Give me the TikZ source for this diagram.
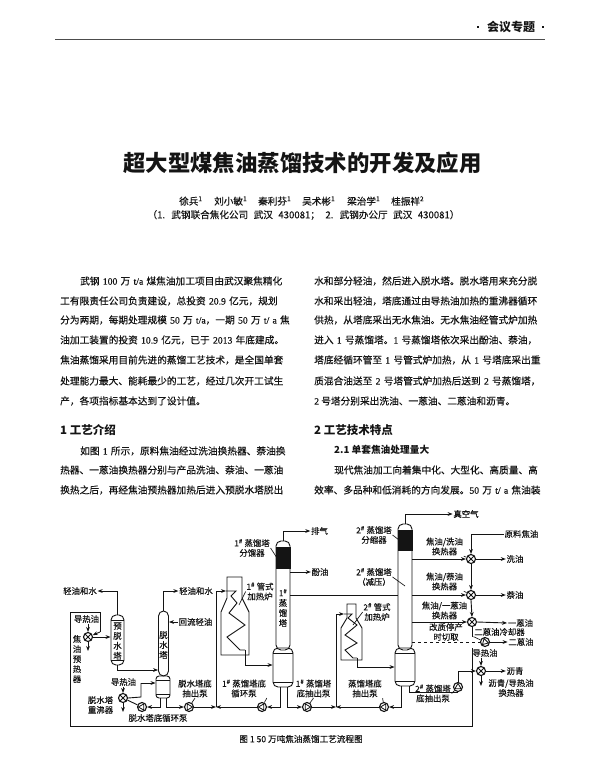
\documentclass[tikz,border=0pt]{standalone}
\usepackage{fontspec}
\usetikzlibrary{arrows.meta,calc}
\setmainfont{Noto Sans CJK SC}
\newfontfamily\lat[FakeBold=0.25]{Liberation Serif}
\newfontfamily\semi[FakeBold=0.25]{Noto Sans CJK SC}
\XeTeXlinebreaklocale "zh"
\XeTeXlinebreakskip=0pt plus 2pt minus .3pt
\definecolor{ink}{gray}{0.08}
\newcommand\blin[5]{\node[bodytext,text width=#4pt] (#1) at (#2,#3) {\parfillskip=0pt\relax #5};}
\newcommand\blast[4]{\node[bodytext] (#1) at (#2,#3) {#4};}
\newcommand\nsup[1]{\textsuperscript{#1}}
\begin{document}
\begin{tikzpicture}[x=1pt,y=-1pt,every node/.style={text=ink},
 bodytext/.style={anchor=west,inner sep=0pt,font=\fontsize{9.7}{11}\selectfont\semi},
 headtext/.style={anchor=west,inner sep=0pt,font=\fontsize{11.5}{13}\selectfont\bfseries},
 lab/.style={inner sep=0.6pt,align=center,font=\fontsize{8.4}{9.8}\selectfont\semi},
 vlab/.style={inner sep=0pt,align=center,font=\fontsize{8.4}{10}\selectfont\semi},
 author/.style={anchor=west,inner sep=0pt,font=\fontsize{9.6}{11}\selectfont\semi},
 pipe/.style={line width=.9pt,draw=ink},
 flow/.style={pipe,-{Stealth[length=5pt,width=3.8pt]}},
 leader/.style={line width=.65pt,draw=ink},
 vessel/.style={draw=ink,line width=.9pt,rounded corners=5pt,inner sep=0pt,minimum width=#1},
 packed/.style={fill=ink,draw=ink,inner sep=0pt,minimum width=#1},
 hx/.style={circle,draw=ink,line width=1.1pt,minimum size=9pt,inner sep=0pt,
   path picture={\draw[line width=.8pt,ink]
     (path picture bounding box.north west)--(path picture bounding box.south east)
     (path picture bounding box.north east)--(path picture bounding box.south west);}},
 pump/.style={circle,draw=ink,line width=1.1pt,minimum size=9pt,inner sep=0pt,
   path picture={\draw[line width=.8pt,ink]
     ($(path picture bounding box.center)+(#1:3.6pt)$)--
     ($(path picture bounding box.center)+(#1+120:3.6pt)$)--
     ($(path picture bounding box.center)+(#1-120:3.6pt)$)--cycle;}},
 decodot/.style={fill=ink,inner sep=0pt,minimum size=2.8pt}
]
\useasboundingbox (0,0) rectangle (600,770);
\fill[white] (0,0) rectangle (600,770);

% ---------- header
\node[anchor=west,inner sep=0pt,font=\fontsize{12}{14}\selectfont\bfseries] (hdr) at (487,27) {会议专题};
\node[decodot] (hd1) at (478,27) {};
\node[decodot] (hd2) at (543,27) {};
\coordinate (hrA) at (55,39);
\coordinate (hrB) at (545,39);
\draw[line width=.7pt,black!70] (hrA)--(hrB);

% ---------- title
\node[inner sep=0pt,font=\fontsize{22.4}{26}\selectfont\bfseries] (title) at (302.5,163) {超大型煤焦油蒸馏技术的开发及应用};
\node[author] (a1) at (179,201) {徐兵\nsup{1}};
\node[author] (a2) at (214,201) {刘小敏\nsup{1}};
\node[author] (a3) at (258,201) {秦利芬\nsup{1}};
\node[author] (a4) at (302,201) {吴术彬\nsup{1}};
\node[author] (a5) at (347,201) {梁治学\nsup{1}};
\node[author] (a6) at (391,201) {桂振祥\nsup{2}};
\node[inner sep=0pt,font=\fontsize{9.6}{11}\selectfont\semi] (aff) at (303.5,215) {\spaceskip=5.5pt（1. 武钢联合焦化公司 武汉 430081； 2. 武钢办公厅 武汉 430081）};

% ---------- left column
\blin{l1}{80}{281}{211}{武钢 {\lat 100} 万 {\lat t/a} 煤焦油加工项目由武汉聚焦精化}
\blin{l2}{60}{301}{231}{工有限责任公司负责建设，总投资 {\lat 20.9} 亿元，规划}
\blin{l3}{60}{320}{231}{分为两期，每期处理规模 {\lat 50} 万 {\lat t/a}，一期 {\lat 50} 万 {\lat t/ a} 焦}
\blin{l4}{60}{340}{231}{油加工装置的投资 {\lat 10.9} 亿元，已于 {\lat 2013} 年底建成。}
\blin{l5}{60}{360}{231}{焦油蒸馏采用目前先进的蒸馏工艺技术，是全国单套}
\blin{l6}{60}{381}{231}{处理能力最大、能耗最少的工艺，经过几次开工试生}
\blast{l7}{60}{401}{产，各项指标基本达到了设计值。}
\node[headtext] (h1) at (60,430) {1 工艺介绍};
\blin{l8}{80}{451}{211}{如图 {\lat 1} 所示，原料焦油经过洗油换热器、萘油换}
\blin{l9}{60}{470}{231}{热器、一蒽油换热器分别与产品洗油、萘油、一蒽油}
\blin{l10}{60}{490}{231}{换热之后，再经焦油预热器加热后进入预脱水塔脱出}

% ---------- right column
\blin{r1}{314}{281}{231}{水和部分轻油，然后进入脱水塔。脱水塔用来充分脱}
\blin{r2}{314}{301}{231}{水和采出轻油，塔底通过由导热油加热的重沸器循环}
\blin{r3}{314}{320}{231}{供热，从塔底采出无水焦油。无水焦油经管式炉加热}
\blin{r4}{314}{340}{231}{进入 {\lat 1} 号蒸馏塔。{\lat 1} 号蒸馏塔依次采出酚油、萘油，}
\blin{r5}{314}{360}{231}{塔底经循环管至 {\lat 1} 号管式炉加热，从 {\lat 1} 号塔底采出重}
\blin{r6}{314}{381}{231}{质混合油送至 {\lat 2} 号塔管式炉加热后送到 {\lat 2} 号蒸馏塔，}
\blast{r7}{314}{401}{{\lat 2} 号塔分别采出洗油、一蒽油、二蒽油和沥青。}
\node[headtext] (h2) at (314,430) {2 工艺技术特点};
\node[headtext,font=\fontsize{9.7}{11}\selectfont\bfseries] (h21) at (334,450) {2.1 单套焦油处理量大};
\blin{r8}{334}{470}{211}{现代焦油加工向着集中化、大型化、高质量、高}
\blin{r9}{314}{490}{231}{效率、多品种和低消耗的方向发展。{\lat 50} 万 {\lat t/ a} 焦油装}

% ---------- vessels
\node[vessel=13pt,minimum height=50pt] (tp) at (117.5,640) {};
\node[vessel=10pt,minimum height=65pt] (td) at (163.5,643.5) {};
\node[vessel=14pt,minimum height=22pt,rounded corners=3pt] (tdl) at (163,687) {};
\node[vessel=14pt,minimum height=109pt] (t1) at (283,595.5) {};
\node[vessel=20pt,minimum height=39pt] (t1l) at (283,667.5) {};
\node[packed=14pt,minimum height=21pt] (d1) at (283,557.5) {};
\node[vessel=14pt,minimum height=126pt] (t2) at (405,587) {};
\node[vessel=20pt,minimum height=38pt] (t2l) at (405,667) {};
\node[packed=14pt,minimum height=20pt] (d2) at (405,540) {};
\coordinate (tl1a) at (276,547); \coordinate (tl1b) at (290,547);
\coordinate (tl2a) at (398,530); \coordinate (tl2b) at (412,530);
\coordinate (w1a) at (273,653); \coordinate (w1b) at (293,653);
\coordinate (w2a) at (273,682); \coordinate (w2b) at (293,682);
\coordinate (w3a) at (395,653); \coordinate (w3b) at (415,653);
\coordinate (w4a) at (395,681); \coordinate (w4b) at (415,681);
\coordinate (w5a) at (156,680); \coordinate (w5b) at (170,680);
\coordinate (w6a) at (156,694); \coordinate (w6b) at (170,694);
\coordinate (w7a) at (111,620); \coordinate (w7b) at (124,620);
\coordinate (w8a) at (111,660); \coordinate (w8b) at (124,660);
\draw[pipe] (tl1a)--(tl1b) (tl2a)--(tl2b) (w1a)--(w1b) (w2a)--(w2b) (w3a)--(w3b) (w4a)--(w4b)
 (w5a)--(w5b) (w6a)--(w6b) (w7a)--(w7b) (w8a)--(w8b);

% furnaces
\draw[pipe] (227,598)--(227,577)--(242,577)--(242,598)--(249,612)--(249,655)--(221,655)--(221,612)--cycle;
\draw[pipe] (347,618)--(347,604)--(356,604)--(356,618)--(362,628)--(362,660)--(341,660)--(341,628)--cycle;

% exchangers and pumps
\node[hx] (hx0) at (88,637) {};
\node[hx] (hxr) at (123,698) {};
\node[hx] (hx1) at (471,559) {};
\node[hx] (hx2) at (471,595) {};
\node[hx] (hx3) at (472,622) {};
\node[hx] (hx4) at (481,671) {};
\node[pump=-135] (cool) at (485,642) {};
\node[pump=180] (pr) at (142,707) {};
\node[pump=0] (p1) at (189,707) {};
\node[pump=180] (p2) at (262,707) {};
\node[pump=0] (p3) at (307,707) {};
\node[pump=180] (p4) at (384,707) {};
\node[pump=90] (p5) at (458,687) {};

% ---------- labels
\node[lab] (qs1) at (80,591) {轻油和水};
\node[lab] (qs2) at (196,591) {轻油和水};
\node[lab] (hl) at (195.5,622) {回流轻油};
\node[lab] (dr0) at (86.5,619) {导热油};
\node[vlab] (yrq) at (77,659) {焦\\油\\预\\热\\器};
\node[vlab] (ytxt) at (117.5,641) {预\\脱\\水\\塔};
\node[vlab] (dtxt) at (163.5,645) {脱\\水\\塔};
\node[vlab] (t1txt) at (283,608) {1\nsup{\#}\\蒸\\馏\\塔};
\node[lab] (dr1) at (123.5,682) {导热油};
\node[lab] (rbl) at (100.5,705) {脱水塔\\重沸器};
\node[lab] (prl) at (158,718) {脱水塔底循环泵};
\node[lab] (p1l) at (195,688.5) {脱水塔底\\抽出泵};
\node[lab] (p2l) at (244,688.5) {1\nsup{\#} 蒸馏塔底\\循环泵};
\node[lab] (p3l) at (313.5,688.5) {1\nsup{\#} 蒸馏塔\\底抽出泵};
\node[lab] (p4l) at (365,688.5) {蒸馏塔底\\抽出泵};
\node[lab] (p5l) at (433,693.5) {2\nsup{\#} 蒸馏塔\\底抽出泵};
\node[lab] (d1l) at (252,548) {1\nsup{\#} 蒸馏塔\\分馏器};
\node[lab] (f1l) at (260,591.5) {1\nsup{\#} 管式\\加热炉};
\node[lab] (d2l) at (374,535) {2\nsup{\#} 蒸馏塔\\分缩器};
\node[lab] (t2l2) at (374,577) {2\nsup{\#} 蒸馏塔\\（减压）};
\node[lab] (f2l) at (377,612) {2\nsup{\#} 管式\\加热炉};
\node[lab] (pq) at (319.5,531) {排气};
\node[lab] (fy) at (320,572) {酚油};
\node[lab] (zkq) at (466,514) {真空气};
\node[lab] (raw) at (521.5,534) {原料焦油};
\node[lab] (xy) at (515,559) {洗油};
\node[lab] (ny) at (515,595) {萘油};
\node[lab] (y1) at (520.5,623) {一蒽油};
\node[lab] (y2) at (521,642) {二蒽油};
\node[lab] (lq) at (515,671) {沥青};
\node[lab] (hx1l) at (444.5,546.5) {焦油/洗油\\换热器};
\node[lab] (hx2l) at (444.5,581.5) {焦油/萘油\\换热器};
\node[lab] (hx3l) at (444.5,610.5) {焦油/一蒽油\\换热器};
\node[lab] (gz) at (446,632) {改质停产\\时切取};
\node[lab] (cooll) at (499.5,632) {二蒽油冷却器};
\node[lab] (dr2) at (485,653) {导热油};
\node[lab] (hx4l) at (511,688) {沥青/导热油\\换热器};
\node[inner sep=0pt,font=\fontsize{8.6}{10}\selectfont\semi] (cap) at (301,739) {图 1 50 万吨焦油蒸馏工艺流程图};

% ---------- free ends and junctions
\coordinate (hx0b) at (88,651);
\coordinate (hxrb) at (123,712);
\coordinate (hx4b) at (481,686);
\coordinate (j1) at (216,707);
\coordinate (j2) at (336,707);
\coordinate (rr) at (100,632);
\coordinate (rt) at (100,612);
\coordinate (rl) at (70,612);
\coordinate (rb) at (70,726);
\coordinate (rc) at (472,726);
\coordinate (m1) at (472,637);
\coordinate (m2) at (472,648);
\coordinate (f1in) at (226,591);
\coordinate (f1o) at (245,650);
\coordinate (f2in) at (344,614);
\coordinate (f2o) at (357,658);
\coordinate (rbk) at (141,683);
\coordinate (rbj) at (141,697);

% ---------- pipes
\draw[flow] (tp.north)|-(qs1.east);
\draw[flow] (td.north)|-(qs2.west);
\draw[flow] (hl.west)--(td.east|-hl);
\draw[flow] (hx0)--(tp.west|-hx0);
\draw[flow] (dr0.south-|hx0)--(hx0.north);
\draw[flow] (hx0)--(hx0b);
\draw[pipe] (m2)--(rc)--(rb)--(rl)--(rt)--(rr);
\draw[flow] (rr)--(hx0);
\draw[flow] (tp.south)|-(td.west|-0,670);
\draw[flow] (dr1.south-|hxr)--(hxr.north);
\draw[flow] (hxr)--(hxrb);
\draw[pipe] (hxr)--(pr);
\draw[pipe] (hxr.east)--(rbj)--(rbk);
\draw[flow] (rbk)--(tdl.west|-rbk);
\draw[flow] ([xshift=-3pt]tdl.south)|-(pr.east);
\draw[flow] ([xshift=3pt]tdl.south)|-(p1.west);
\draw[leader] (p1l.south)--(p1);
\draw[flow] (p1.east)--(j1);
\draw[flow] (p2.west)--(j1);
\draw[flow] (j1)|-(f1in);
\draw[pipe] (f1in)--(236,591)--(231,596)--(237,603)--(229,613)--(245,625)--(227,637)--(240,650)--(f1o);
\draw[flow] (f1o)|-(t1l.west|-0,665);
\draw[flow] ([xshift=-3pt]t1l.south)|-(p2.east);
\draw[flow] ([xshift=4pt]t1l.south)|-(p3.west);
\draw[flow] (p3.east)--(j2);
\draw[flow] (p4.west)--(j2);
\draw[flow] (j2)|-(f2in);
\draw[pipe] (f2in)--(352,614)--(348,618)--(357,625)--(345,635)--(357,643)--(345,650)--(353,658)--(f2o);
\draw[flow] (f2o)|-(t2l.west|-0,667);
\draw[flow] ([xshift=-4pt]t2l.south)|-(p4.east);
\draw[pipe] ([xshift=4pt]t2l.south)|-(p5.south-|p5);
\draw[flow] (p5.north)|-(hx4.west);
\draw[flow] (t1.north)|-(pq.west);
\draw[flow] (t1.east|-fy)--(fy.west);
\draw[pipe] (t1.east|-ny)--(t2.west|-ny);
\draw[flow] (t2.north)|-(zkq.west);
\draw[flow] (raw.west)-|(hx1.north);
\draw[flow] (t2.east|-hx1)--(hx1.west);
\draw[flow] (hx1.east)--(xy.west);
\draw[flow] (hx1.south)--(hx2.north);
\draw[flow] (t2.east|-hx2)--(hx2.west);
\draw[flow] (hx2.east)--(ny.west);
\draw[flow] (hx2.south)--(hx3.north);
\draw[flow] (t2.east|-hx3)--(hx3.west);
\draw[flow] (hx3.east)--(y1.west);
\draw[pipe] (hx3.south)--(m1);
\draw[pipe,dashed] (t2.east|-cool)--(cool.west);
\draw[flow] (cool.east)--(y2.west);
\draw[flow] (dr2.south-|hx4)--(hx4.north);
\draw[flow] (hx4)--(hx4b);
\draw[flow] (hx4.east)--(lq.west);
% ---------- leaders
\coordinate (ld1) at (277,558);
\coordinate (ld2) at (399,540);
\coordinate (lt2) at (405,586);
\coordinate (lf1) at (239,605);
\coordinate (lf2) at (353,625);
\draw[leader] (d1l.east)--(ld1);
\draw[leader] (d2l.east)--(ld2);
\draw[leader] (t2l2.east)--(lt2);
\draw[leader] (f1l.west)--(lf1);
\draw[leader] (f2l.west)--(lf2);
\draw[leader] (p2l.south east)--(p2);
\draw[leader] (p3l.south)--(p3);
\draw[leader] (p4l.south east)--(p4);
\draw[leader] (p5l.east)--(p5);
\draw[leader] (hx1l.south east)--(hx1);
\draw[leader] (hx2l.south east)--(hx2);
\draw[leader] (hx3l.south east)--(hx3);
\draw[leader] (cooll.south west)--(cool);
\end{tikzpicture}
\end{document}
